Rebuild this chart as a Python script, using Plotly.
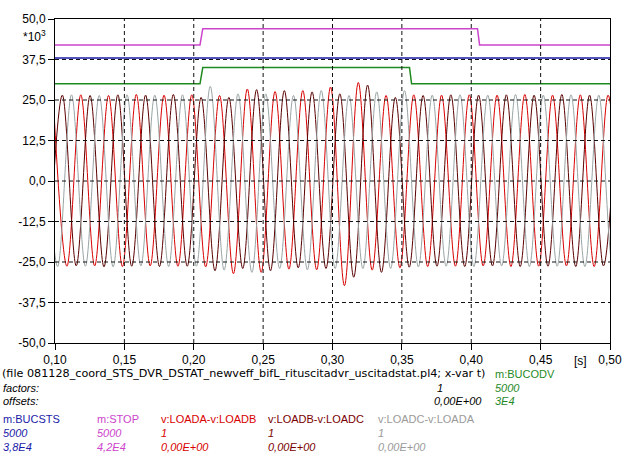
import plotly.graph_objects as go

# ---------------- data ----------------
# Line-to-line voltages [kV] : successive extremes (peak / trough), one every half period
half_period = 0.01
ab_start = 0.0986   # first extreme (peak) of v:LOADA-v:LOADB
bc_start = 0.0953   # first extreme (trough) of v:LOADB-v:LOADC
ca_start = 0.0919   # first extreme (peak) of v:LOADC-v:LOADA

v_ab = [26.5, -26.3, 26.6, -26.2, 26.4, -26.4, 26.7, -26.2, 26.5, -26.3,
        26.6, -26.5, 26.4, -28.6, 28.4, -28.2, 27.6, -27.2, 27.9, -27.4,
        29.0, -32.3, 30.4, -27.5, 26.4, -26.8, 26.6, -26.4, 26.5, -26.3,
        26.6, -26.2, 26.5, -26.4, 26.7, -26.3, 26.5, -26.2, 26.6, -26.4,
        26.5, -26.3]
v_bc = [-26.4, 26.5, -26.2, 26.4, -26.5, 26.6, -26.3, 26.5, -26.4, 26.7,
        -26.3, 25.8, -27.7, 25.8, -27.0, 28.2, -27.7, 27.9, -26.8, 27.5,
        -27.0, 26.9, -29.7, 29.6, -28.2, 25.8, -26.6, 26.4, -26.3, 26.6,
        -26.4, 26.5, -26.2, 26.6, -26.4, 26.5, -26.3, 26.7, -26.4, 26.5,
        -26.2, 26.6]
v_ca = [26.5, -26.4, 26.6, -26.3, 26.4, -26.5, 26.6, -26.2, 26.5, -26.4,
        26.6, -26.3, 29.2, -27.5, 26.9, -28.2, 26.9, -27.0, 26.4, -27.4,
        27.9, -27.0, 26.4, -27.0, 27.5, -27.0, 27.9, -26.5, 26.5, -26.3,
        26.6, -26.4, 26.5, -26.2, 26.7, -26.4, 26.5, -26.3, 26.6, -26.4,
        26.5, -26.3, 26.6]

# Logic signals (raw 0/1) with their factor and offset
stop_t = [0.10, 0.2045, 0.2065, 0.4045, 0.4060, 0.50]
stop_v = [0, 0, 1, 1, 0, 0]
bucsts_t = [0.10, 0.50]
bucsts_v = [0, 0]
bucodv_t = [0.10, 0.2045, 0.2065, 0.3555, 0.3570, 0.50]
bucodv_v = [0, 0, 1, 1, 0, 0]
factor_stop, offset_stop = 5000, 42000
factor_bucsts, offset_bucsts = 5000, 38000
factor_bucodv, offset_bucodv = 5000, 30000

x_tick_vals = [0.10, 0.15, 0.20, 0.25, 0.30, 0.35, 0.40, 0.45, 0.50]
x_tick_text = ["0,10", "0,15", "0,20", "0,25", "0,30", "0,35", "0,40", "0,45", "0,50"]
y_tick_vals = [50, 37.5, 25, 12.5, 0, -12.5, -25, -37.5, -50]
y_tick_text = ["50,0", "37,5", "25,0", "12,5", "0,0", "-12,5", "-25,0", "-37,5", "-50,0"]

# ---------------- figure ----------------
FONT = "Liberation Sans"
L, R, T, B = 55, 610, 16, 343
W, H = 636, 457

def times(start, n):
    return [start + i * half_period for i in range(n)]

def scaled(vals, f, o):
    return [(v * f + o) / 1000.0 for v in vals]

fig = go.Figure()
fig.add_trace(go.Scatter(x=bucsts_t, y=scaled(bucsts_v, factor_bucsts, offset_bucsts),
                         mode="lines", line=dict(color="#1a1aa8", width=1.5)))
fig.add_trace(go.Scatter(x=stop_t, y=scaled(stop_v, factor_stop, offset_stop),
                         mode="lines", line=dict(color="#cc44cc", width=1.5)))
fig.add_trace(go.Scatter(x=times(ab_start, len(v_ab)), y=v_ab, mode="lines",
                         line=dict(color="#d80000", width=1, shape="spline", smoothing=1.0)))
fig.add_trace(go.Scatter(x=times(bc_start, len(v_bc)), y=v_bc, mode="lines",
                         line=dict(color="#5a0000", width=1, shape="spline", smoothing=1.0)))
fig.add_trace(go.Scatter(x=times(ca_start, len(v_ca)), y=v_ca, mode="lines",
                         line=dict(color="#9aa4a4", width=1, shape="spline", smoothing=1.0)))
fig.add_trace(go.Scatter(x=bucodv_t, y=scaled(bucodv_v, factor_bucodv, offset_bucodv),
                         mode="lines", line=dict(color="#1f8a1f", width=1.5)))

# dashed grid on top of the traces
shapes = []
for xv in x_tick_vals[1:-1]:
    shapes.append(dict(type="line", xref="x", yref="paper", x0=xv, x1=xv, y0=0, y1=1,
                       line=dict(color="#111", width=1, dash="4px,3px"), layer="above"))
for yv in y_tick_vals[1:-1]:
    shapes.append(dict(type="line", xref="paper", yref="y", x0=0, x1=1, y0=yv, y1=yv,
                       line=dict(color="#111", width=1, dash="4px,3px"), layer="above"))

def px(xp):
    return (xp - L) / (R - L)

def py(yp):
    return (B - yp) / (B - T)

ann = []
def text(xp, yp, s, color="#000", italic=False, anchor="left", size=11, family=FONT):
    ann.append(dict(x=px(xp), y=py(yp), xref="paper", yref="paper", text=s, showarrow=False,
                    xanchor=anchor, yanchor="middle",
                    font=dict(family=family, size=size, color=color,
                              style="italic" if italic else "normal")))

text(48, 33, "*10<sup>3</sup>", size=12, anchor="right")
text(580, 361, "[s]", size=12, anchor="center")
text(0, 374, "(file 081128_coord_STS_DVR_DSTAT_newveff_bifL_rituscitadvr_uscitadstat.pl4; x-var t)",
     size=11.2, family="DejaVu Sans")
text(493, 374, "m:BUCODV", color="#1f8a1f")
text(1, 388, "factors:", italic=True)
text(435, 388, "1", italic=True)
text(493, 388, str(factor_bucodv), color="#1f8a1f", italic=True)
text(1, 402, "offsets:", italic=True)
text(432, 402, "0,00E+00", italic=True)
text(493, 402, "3E4", color="#1f8a1f", italic=True)

cols = [(1, "m:BUCSTS", "#1a1aa8", "5000", "3,8E4"),
        (95, "m:STOP", "#cc44cc", "5000", "4,2E4"),
        (159, "v:LOADA-v:LOADB", "#d80000", "1", "0,00E+00"),
        (266, "v:LOADB-v:LOADC", "#7a0000", "1", "0,00E+00"),
        (376, "v:LOADC-v:LOADA", "#9a9a9a", "1", "0,00E+00")]
for xp, name, c, f, o in cols:
    text(xp, 420, name, color=c)
    text(xp, 434, f, color=c, italic=True)
    text(xp, 448, o, color=c, italic=True)

fig.update_layout(
    width=W, height=H,
    margin=dict(l=L, r=W - R, t=T, b=H - B, pad=0),
    paper_bgcolor="white", plot_bgcolor="white",
    showlegend=False,
    shapes=shapes, annotations=ann,
    font=dict(family=FONT, size=12, color="#000"),
    xaxis=dict(range=[0.10, 0.50], tickvals=x_tick_vals, ticktext=x_tick_text,
               showgrid=False, zeroline=False, showline=True, linecolor="#000",
               linewidth=1, mirror=True, ticks="outside", ticklen=6, tickcolor="#000",
               tickfont=dict(size=12)),
    yaxis=dict(range=[-50, 50], tickvals=y_tick_vals, ticktext=y_tick_text,
               showgrid=False, zeroline=False, showline=True, linecolor="#000",
               linewidth=1, mirror=True, ticks="outside", ticklen=6, tickcolor="#000",
               tickfont=dict(size=12)),
)

fig.write_html("out.html", config={"displayModeBar": False},
               post_script="document.body.style.margin='0px';")
